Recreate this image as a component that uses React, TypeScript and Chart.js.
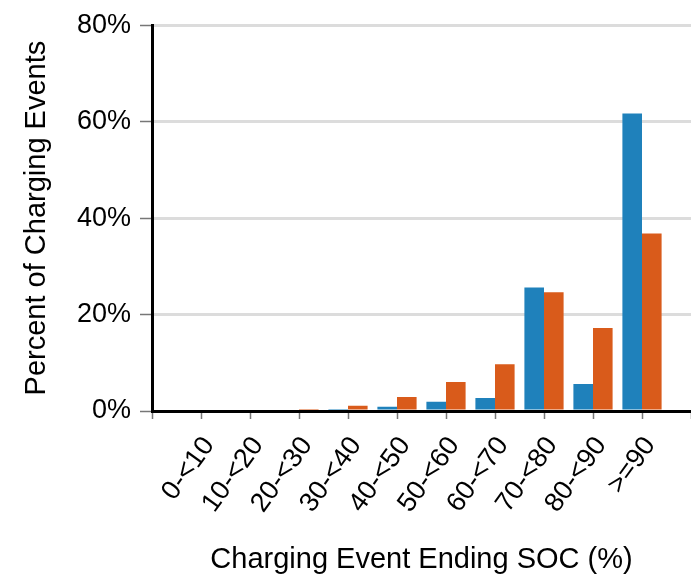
import React, { useEffect, useRef } from 'react';
import { Chart, registerables } from 'chart.js';

Chart.register(...registerables);

const categories = ['0-<10', '10-<20', '20-<30', '30-<40', '40-<50', '50-<60', '60-<70', '70-<80', '80-<90', '>=90'];
const seriesBlue = [0, 0, 0, 0.2, 0.9, 1.9, 2.7, 25.6, 5.6, 61.7];
const seriesOrange = [0, 0, 0.4, 1.1, 2.9, 6.0, 9.7, 24.6, 17.2, 36.8];
const yTickValues = [0, 20, 40, 60, 80];

const FONT = "'Liberation Sans', Arial, Helvetica, sans-serif";

export default function App() {
  const ref = useRef<HTMLCanvasElement | null>(null);

  useEffect(() => {
    if (!ref.current) return;
    const labels = ['', ...categories, ''];
    const padData = (a: number[]) => [null, ...a, null];
    const chart = new Chart(ref.current, {
      type: 'bar',
      data: {
        labels,
        datasets: [
          {
            label: 'Series A',
            data: padData(seriesBlue),
            backgroundColor: '#1f81bb',
            borderWidth: 0,
            categoryPercentage: 0.8,
            barPercentage: 1.0,
          },
          {
            label: 'Series B',
            data: padData(seriesOrange),
            backgroundColor: '#d95b1b',
            borderWidth: 0,
            categoryPercentage: 0.8,
            barPercentage: 1.0,
          },
        ],
      },
      options: {
        animation: false,
        responsive: false,
        layout: { padding: { left: 16, top: 20, right: 0, bottom: 0 } },
        plugins: { legend: { display: false }, tooltip: { enabled: false } },
        scales: {
          x: {
            type: 'category',
            offset: false,
            grid: {
              drawOnChartArea: false,
              drawTicks: true,
              tickLength: 8,
              tickColor: '#777',
              tickWidth: 1.5,
              offset: false,
            },
            border: { color: '#000', width: 3 },
            ticks: {
              autoSkip: false,
              minRotation: 54,
              maxRotation: 54,
              padding: 12,
              labelOffset: 8,
              color: '#000',
              font: { family: FONT, size: 27 },
            },
            title: {
              display: true,
              text: 'Charging Event Ending SOC (%)',
              color: '#000',
              font: { family: FONT, size: 29 },
              padding: { top: 4, bottom: 0 },
            },
            afterFit: (scale: any) => {
              scale.height = 166;
              scale.paddingRight = 0;
              scale.paddingLeft = 0;
            },
          },
          y: {
            min: 0,
            max: 80,
            afterBuildTicks: (scale: any) => {
              scale.ticks = yTickValues.map((v) => ({ value: v }));
            },
            grid: {
              color: '#dcdcdc',
              lineWidth: 3,
              tickColor: '#777',
              tickWidth: 1.5,
              tickLength: 12,
            },
            border: { color: '#000', width: 3 },
            ticks: {
              padding: 9,
              color: '#000',
              font: { family: FONT, size: 27 },
              callback: (v: any) => `${v}%`,
            },
            title: {
              display: true,
              text: 'Percent of Charging Events',
              color: '#000',
              font: { family: FONT, size: 29 },
              padding: { top: 4, bottom: 4 },
            },
            afterFit: (scale: any) => {
              scale.width = 136;
            },
          },
        },
      },
    });
    return () => chart.destroy();
  }, []);

  return (
    <div style={{ position: 'fixed', left: 0, top: 0, width: 691, height: 577, background: '#fff' }}>
      <canvas ref={ref} width={691} height={577} />
    </div>
  );
}
